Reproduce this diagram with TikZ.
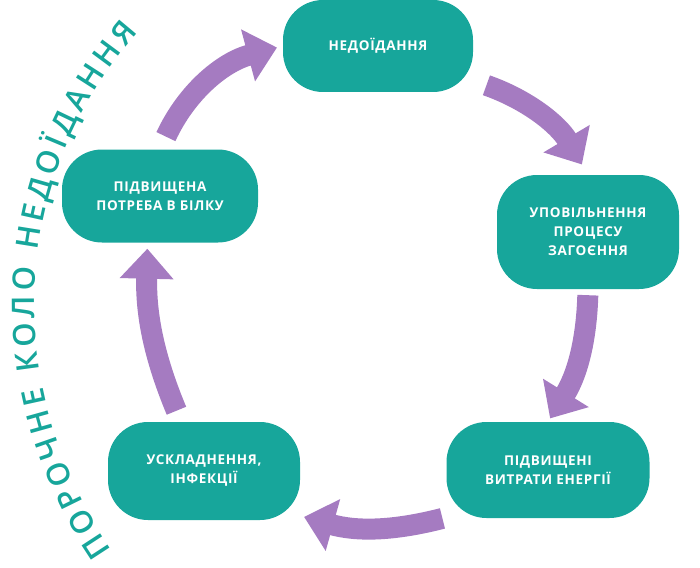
\documentclass[tikz,border=0pt]{standalone}
\usepackage{fontspec}
\setmainfont{Open Sans}
\usetikzlibrary{positioning, arrows.meta, decorations.text}
\definecolor{teal1}{HTML}{17A69B}
\definecolor{lilac}{HTML}{A57BC1}
\newfontfamily\boxfont[LetterSpace=5]{Open Sans Bold}
\newfontfamily\ringfont{Open Sans Semibold}
\tikzset{
  stage/.style={fill=teal1, text=white, rounded corners=40pt, align=center,
    font=\boxfont\fontsize{13.5}{19}\selectfont, inner sep=0pt},
  cyc/.style={draw=lilac, line width=21pt, -{Triangle[width=52pt,length=30pt]}}
}
\begin{document}
\begin{tikzpicture}[x=1pt,y=-1pt]
\useasboundingbox (0,0) rectangle (700,567);
\node[stage, minimum width=190pt, minimum height=92pt] (n1) at (378,46) {НЕДОЇДАННЯ};
\node[stage, minimum width=182pt, minimum height=114pt] (n2) at (588,232) {УПОВІЛЬНЕННЯ\\ПРОЦЕСУ\\ЗАГОЄННЯ};
\node[stage, minimum width=203pt, minimum height=96pt] (n3) at (548,470) {ПІДВИЩЕНІ\\ВИТРАТИ ЕНЕРГІЇ};
\node[stage, minimum width=192pt, minimum height=98pt] (n4) at (204,471) {УСКЛАДНЕННЯ,\\ІНФЕКЦІЇ};
\node[stage, minimum width=196pt, minimum height=93pt] (n5) at (160,196) {ПІДВИЩЕНА\\ПОТРЕБА В БІЛКУ};
% cycle arrows
\draw[cyc, shorten <=14pt, shorten >=6pt] (n5.north) to[bend left=25] (n1.west);
\draw[cyc, shorten <=14pt, shorten >=12pt] (n1.-20) to[bend left=20] (n2.north);
\draw[cyc, shorten <=6pt, shorten >=4pt] (n2.south) to[bend left=15] (n3.north);
\draw[cyc, shorten <=4pt, shorten >=4pt] (n3.-155) to[bend left=15] (n4.-25);
\draw[cyc, shorten <=12pt, shorten >=6pt] (n4.115) to[bend left=12] (n5.-105);
% ring title
\path[decorate, decoration={text along path, text align=fit to path,
  text={|\ringfont\fontsize{31}{34}\selectfont\color{teal1}|ПОРОЧНЕ КОЛО НЕДОЇДАННЯ}}]
  (112,550) .. controls (2,390) and (8,180) .. (138,32);
\end{tikzpicture}
\end{document}
